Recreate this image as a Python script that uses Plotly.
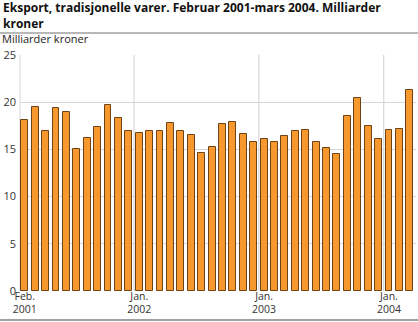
import plotly.graph_objects as go

months = ["Feb 2001", "Mar 2001", "Apr 2001", "May 2001", "Jun 2001", "Jul 2001", "Aug 2001",
          "Sep 2001", "Oct 2001", "Nov 2001", "Dec 2001",
          "Jan 2002", "Feb 2002", "Mar 2002", "Apr 2002", "May 2002", "Jun 2002", "Jul 2002",
          "Aug 2002", "Sep 2002", "Oct 2002", "Nov 2002", "Dec 2002",
          "Jan 2003", "Feb 2003", "Mar 2003", "Apr 2003", "May 2003", "Jun 2003", "Jul 2003",
          "Aug 2003", "Sep 2003", "Oct 2003", "Nov 2003", "Dec 2003",
          "Jan 2004", "Feb 2004", "Mar 2004"]
values = [18.1, 19.5, 16.9, 19.4, 19.0, 15.0, 16.2, 17.4, 19.7, 18.3, 16.9,
          16.7, 16.9, 17.0, 17.8, 16.9, 16.5, 14.6, 15.3, 17.7, 17.9, 16.6, 15.8,
          16.1, 15.8, 16.4, 16.9, 17.1, 15.8, 15.1, 14.5, 18.5, 20.4, 17.5, 16.1,
          17.1, 17.2, 21.3]
tick_idx = [0, 11, 23, 35]
tick_text = ["Feb.<br>2001", "Jan.<br>2002", "Jan.<br>2003", "Jan.<br>2004"]
y_ticks = [0, 5, 10, 15, 20, 25]

x = list(range(len(values)))
PLOT_H = 322 - 55 - 31

fig = go.Figure()
fig.add_trace(go.Bar(
    x=x, y=values, width=0.66,
    marker=dict(color="#F7982F", line=dict(color="#6E4315", width=1)),
    hovertext=months,
))

fig.update_layout(
    width=418, height=322,
    margin=dict(l=20, r=2, t=55, b=31),
    paper_bgcolor="white", plot_bgcolor="white",
    showlegend=False,
    font=dict(family="Open Sans, DejaVu Sans, sans-serif", size=11, color="#222222"),
    xaxis=dict(range=[-0.46, 37.6], tickmode="array", tickvals=tick_idx, ticktext=tick_text,
               showgrid=False, zeroline=False, showline=False, ticks="",
               tickfont=dict(size=10.5, color="#333333"), ticklabelstandoff=-3),
    yaxis=dict(range=[0, 25], tickvals=y_ticks, showgrid=True, gridcolor="#D6D6D6", gridwidth=1,
               zeroline=False, showline=False, ticks="", tickfont=dict(size=11, color="#333333"),
               ticklabelstandoff=3),
    bargap=0,
)

# left edge and year separators
fig.add_shape(type="line", xref="paper", yref="y", x0=0, x1=0, y0=0, y1=25,
              line=dict(color="#D6D6D6", width=1), layer="below")
for i in tick_idx[1:]:
    fig.add_shape(type="line", xref="x", yref="y", x0=i - 0.5, x1=i - 0.5, y0=0, y1=25,
                  line=dict(color="#CFCFCF", width=1), layer="below")

# title
tfont = dict(size=12, color="#111111", family="Open Sans, DejaVu Sans, sans-serif")
fig.add_annotation(xref="paper", yref="paper", x=-0.045, y=1.0, yshift=57, xanchor="left", yanchor="top",
                   text="<b>Eksport, tradisjonelle varer. Februar 2001-mars 2004. Milliarder<br>kroner</b>",
                   showarrow=False, align="left", borderpad=0, font=tfont)
fig.add_annotation(xref="paper", yref="paper", x=-0.048, y=1.0, yshift=8, xanchor="left", yanchor="bottom",
                   text="Milliarder kroner", showarrow=False, borderpad=0,
                   font=dict(size=11, color="#222222"))
fig.add_shape(type="line", xref="paper", yref="paper", x0=-0.051, x1=1.01,
              y0=1 + 22 / PLOT_H, y1=1 + 22 / PLOT_H, line=dict(color="#A0A0A0", width=1.5))
fig.add_shape(type="line", xref="paper", yref="paper", x0=-0.051, x1=1.01,
              y0=-29 / PLOT_H, y1=-29 / PLOT_H, line=dict(color="#808080", width=1.5))

fig.write_html("out.html")
